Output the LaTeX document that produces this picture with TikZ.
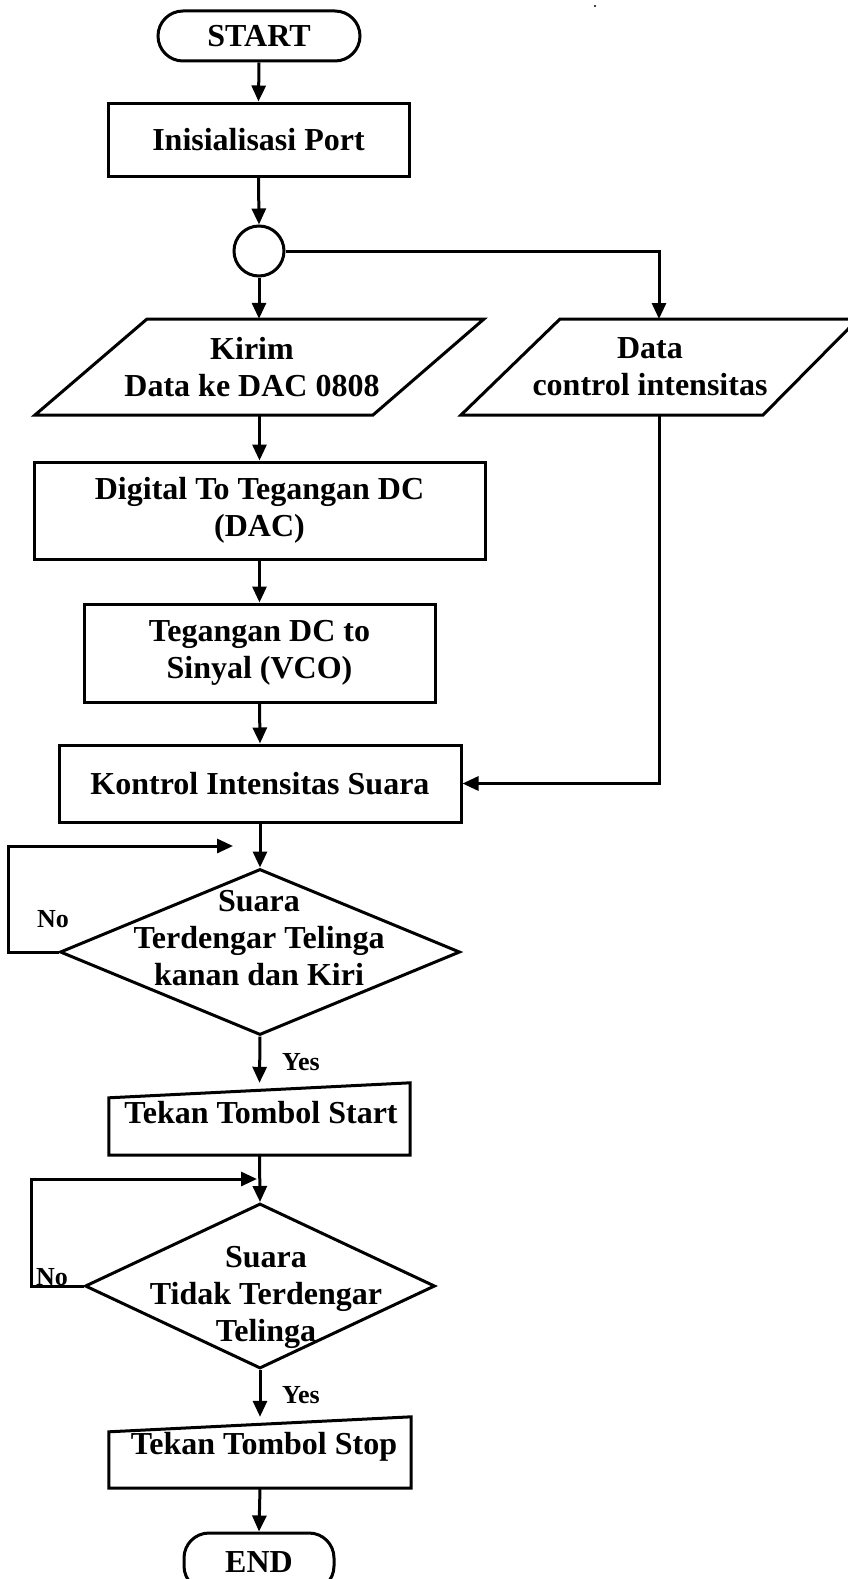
\documentclass[tikz,border=0pt]{standalone}
\usepackage{fontspec}
\setmainfont{Liberation Serif}
\usetikzlibrary{shapes.geometric,arrows.meta,calc}
\begin{document}
\begin{tikzpicture}[x=1pt,y=-1pt,
  ln/.style={line width=3pt, line join=miter},
  arr/.style={ln, -{Triangle[length=16pt,width=14pt]}},
  txt/.style={inner sep=0pt, align=center, font=\bfseries\fontsize{32}{37}\selectfont},
  lbl/.style={inner sep=0pt, font=\bfseries\fontsize{26}{30}\selectfont},
  proc/.style={draw, ln, rectangle, txt},
  term/.style={draw, ln, rectangle, rounded corners=25pt, txt},
  dia/.style={draw, ln, diamond, inner sep=0pt},
  ghost/.style={rectangle, inner sep=0pt}
]
\useasboundingbox (0,0) rectangle (848,1579);
\clip (0,0) rectangle (848,1579);

% tiny speck
\fill (595,6) circle (1.2pt);

% nodes
\node[term, minimum width=202, minimum height=50] (start) at (259,36) {START};
\node[proc, minimum width=301, minimum height=73] (init) at (258.5,139.5) {Inisialisasi Port};
\node[draw, ln, circle, minimum size=50, inner sep=0pt] (circ) at (259,251) {};

\node[txt, minimum height=96] (kirim) at (252,367) {Kirim\\Data ke DAC 0808};
\draw[ln] (147,319) -- (484,319) -- (373,415) -- (35,415) -- cycle;

\node[txt, minimum height=96] (ctrl) at (650,367) {Data\\control intensitas};
\draw[ln] (560,319) -- (858,319) -- (763,415) -- (461,415) -- cycle;
\coordinate (ctrlin) at (659,319);
\coordinate (ctrlout) at (659,415);

\node[proc, minimum width=451, minimum height=97] (dac) at (259.5,510.5) {Digital To Tegangan DC\\(DAC)};
\node[proc, minimum width=351, minimum height=98] (vco) at (259.5,653) {Tegangan DC to\\Sinyal (VCO)};
\node[proc, minimum width=402, minimum height=77] (kontrol) at (260,783.5) {Kontrol Intensitas Suara};

\node[dia, minimum width=400, minimum height=166] (d1) at (260,952) {};
\node[txt] (d1t) at (259,938) {Suara\\Terdengar Telinga\\kanan dan Kiri};
\coordinate (l1end) at (233,846);
\node[lbl] (no1) at (53,919) {No};
\node[lbl] (yes1) at (301,1062) {Yes};

\node[ghost, minimum width=301, minimum height=72] (tstart) at (259.5,1119) {};
\draw[ln] (tstart.south west) -- (tstart.south east) -- (tstart.north east) -- ([yshift=-15pt]tstart.north west) -- cycle;
\node[txt] (tstartt) at (261,1113) {Tekan Tombol Start};

\node[dia, minimum width=350, minimum height=165] (d2) at (260,1286) {};
\node[txt] (d2t) at (266,1297) {Suara\\Tidak Terdengar\\Telinga};
\coordinate (l2end) at (257,1179);
\node[lbl] (no2) at (52,1277) {No};
\node[lbl] (yes2) at (301,1395) {Yes};

\node[ghost, minimum width=302, minimum height=71] (tstop) at (260,1452.5) {};
\draw[ln] (tstop.south west) -- (tstop.south east) -- (tstop.north east) -- ([yshift=-15pt]tstop.north west) -- cycle;
\node[txt] (tstopt) at (264,1447) {Tekan Tombol Stop};

\node[term, minimum width=150, minimum height=58] (end) at (259,1562) {END};

% connectors
\draw[arr] (start.south) -- (init.north);
\draw[arr] (init.south) -- (circ.north);
\draw[arr] (circ.south) -- (circ.south |- kirim.north);
\draw[arr] (circ.east) -| (ctrlin);
\draw[arr] (kirim.south -| dac.north) -- (dac.north);
\draw[arr] (dac.south) -- (vco.north);
\draw[arr] (vco.south) -- (kontrol.north);
\draw[arr] (ctrlout) |- (kontrol.east);
\draw[arr] (kontrol.south) -- (d1.north);
\draw[arr] (d1.west) -- ++(-50,0) |- (l1end);
\draw[arr] (d1.south) -- (tstart.north);
\draw[arr] (tstart.south) -- (d2.north);
\draw[arr] (d2.west) -- ++(-52,0) |- (l2end);
\draw[arr] (d2.south) -- (tstop.north);
\draw[arr] (tstop.south) -- (end.north);
\end{tikzpicture}
\end{document}
